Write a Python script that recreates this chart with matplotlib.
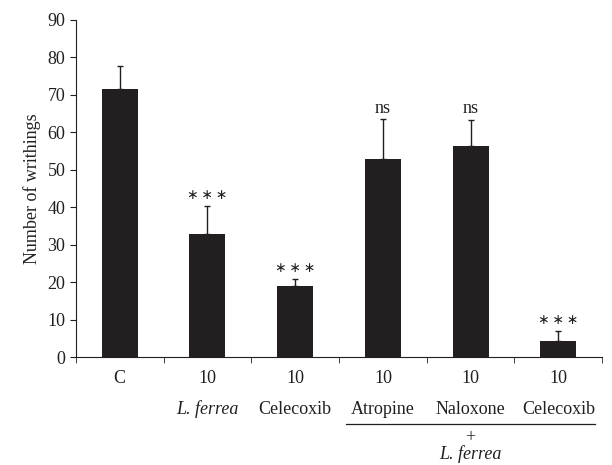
import numpy as np
import matplotlib.pyplot as plt

#%% Data #####################################################################
groups = ["C", "10", "10", "10", "10", "10"]
names = ["", "L. ferrea", "Celecoxib", "Atropine", "Naloxone", "Celecoxib"]
means = [71.5, 32.8, 19.0, 52.9, 56.4, 4.4]
errs = [6.2, 7.5, 1.9, 10.6, 6.9, 2.5]
signif = ["", "***", "***", "ns", "ns", "***"]

#%% Plot #####################################################################
plt.rcParams['font.family'] = ['Liberation Serif', 'DejaVu Serif']
fs = 13
fig = plt.figure(figsize=(6.12, 4.65), dpi=100)
ax = fig.add_axes([0.124, 0.232, 0.86, 0.725])

dark = "#231f20"
x = np.arange(len(means))
ax.bar(x, means, width=0.41, color=dark, zorder=2)
ax.errorbar(x, means, yerr=[np.zeros(len(errs)), errs], fmt="none",
            ecolor=dark, elinewidth=1.0, capsize=2, capthick=1.0, zorder=3)
for xi, m, e, s in zip(x, means, errs, signif):
    if not s:
        continue
    if s == "ns":
        ax.text(xi, m + e + 3.0, s, ha="center", va="center", fontsize=fs,
                color=dark)
    else:
        ax.text(xi, m + e + 3.0, "\u2217\u2009\u2217\u2009\u2217", ha="center",
                va="center", fontsize=10, color=dark,
                family=["DejaVu Sans"])

ax.set_xlim(-0.5, len(means) - 0.5)
ax.set_ylim(0, 90)
ax.set_yticks(np.arange(0, 91, 10))
ax.set_ylabel("Number of writhings", fontsize=fs, color=dark, labelpad=5)
ax.set_xticks(x)
ax.set_xticklabels(groups)
ax.set_xticks(np.arange(-0.5, len(means)), minor=True)
ax.tick_params(axis="x", which="major", length=0, pad=9, labelsize=fs,
               colors=dark)
ax.tick_params(axis="x", which="minor", length=4, direction="out", color=dark)
ax.tick_params(axis="y", length=4, direction="out", labelsize=fs, colors=dark)
for side in ["top", "right"]:
    ax.spines[side].set_visible(False)
for side in ["left", "bottom"]:
    ax.spines[side].set_color(dark)

# second label row
for xi, n in zip(x, names):
    if not n:
        continue
    style = "italic" if n == "L. ferrea" else "normal"
    ax.text(xi, -0.155, n, transform=ax.get_xaxis_transform(), ha="center",
            va="center", fontsize=fs, style=style, color=dark)

# group bracket
ax.plot([2.58, 5.42], [-0.198, -0.198], transform=ax.get_xaxis_transform(),
        color=dark, lw=0.9, clip_on=False)
ax.text(4.0, -0.238, "+", transform=ax.get_xaxis_transform(), ha="center",
        va="center", fontsize=fs, color=dark)
ax.text(4.0, -0.288, "L. ferrea", transform=ax.get_xaxis_transform(),
        ha="center", va="center", fontsize=fs, style="italic", color=dark)

fig.savefig("out.png", dpi=100)
